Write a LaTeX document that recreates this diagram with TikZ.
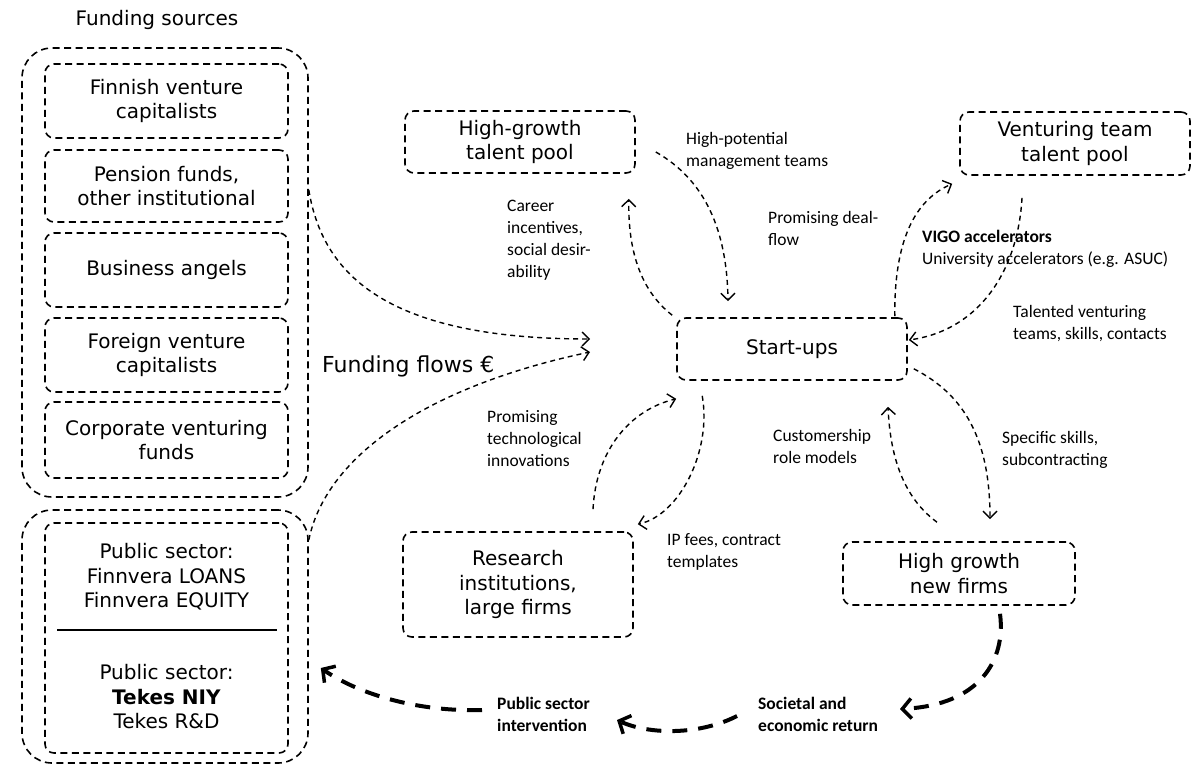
\documentclass[tikz,border=0pt]{standalone}
\usepackage{fontspec}
\setmainfont{DejaVu Sans}
\newfontfamily\lab{Carlito}
\usetikzlibrary{arrows.meta,calc}
\begin{document}
\begin{tikzpicture}[x=1pt,y=-1pt,
 boxd/.style={draw, dash pattern=on 7pt off 4.5pt, line width=1.6pt, rounded corners=9pt, align=center, font=\fontsize{20}{24.5}\selectfont, inner sep=0pt},
 grp/.style={draw, dash pattern=on 7pt off 4.5pt, line width=1.6pt, rounded corners=30pt, inner sep=0pt},
 plain/.style={align=center, inner sep=0pt, font=\fontsize{20}{24.5}\selectfont},
 flow/.style={dash pattern=on 5pt off 4pt, line width=1.4pt, -{Straight Barb[length=7pt,width=14pt,line width=1.4pt]}},
 big/.style={dash pattern=on 15pt off 11pt, line width=4pt, -{Straight Barb[length=9pt,width=20pt,line width=3.5pt]}},
 lbl/.style={align=left, anchor=west, inner sep=0pt, font=\lab\fontsize{17.5}{22}\selectfont},
 blbl/.style={align=left, anchor=west, inner sep=0pt, font=\lab\bfseries\fontsize{17.5}{22}\selectfont}]
\useasboundingbox (0,0) rectangle (1193,766);

% funding group
\node[plain] (fstitle) at (157,20) {Funding sources};
\node[grp, minimum width=286pt, minimum height=449pt] (fund) at (165,272.5) {};
\node[boxd, minimum width=243pt, minimum height=74pt] (fin) at (166.5,101) {Finnish venture\\capitalists};
\node[boxd, minimum width=243pt, minimum height=72pt] (pen) at (166.5,186) {Pension funds,\\other institutional};
\node[boxd, minimum width=243pt, minimum height=74pt] (ang) at (166.5,270) {Business angels};
\node[boxd, minimum width=243pt, minimum height=74pt] (for) at (166.5,355) {Foreign venture\\capitalists};
\node[boxd, minimum width=243pt, minimum height=76pt] (cor) at (166.5,440) {Corporate venturing\\funds};

% public group
\node[grp, minimum width=286pt, minimum height=253pt] (pubg) at (165,636.5) {};
\node[boxd, minimum width=243pt, minimum height=230pt] (pub) at (166.5,638) {};
\draw[line width=1.4pt] (57,630) -- (277,630);
\node[plain] (finn) at (166.5,577) {Public sector:\\Finnvera LOANS\\Finnvera EQUITY};
\node[plain] (tek) at (166.5,697) {Public sector:\\\textbf{Tekes NIY}\\Tekes R\&D};

% main boxes
\node[boxd, minimum width=230pt, minimum height=62pt] (tp) at (520,142) {High-growth\\talent pool};
\node[boxd, minimum width=230pt, minimum height=63pt] (vt) at (1075,143.5) {Venturing team\\talent pool};
\node[boxd, minimum width=230pt, minimum height=62pt] (su) at (792,349) {Start-ups};
\node[boxd, minimum width=230pt, minimum height=105pt] (rs) at (518,584.5) {Research\\institutions,\\large firms};
\node[boxd, minimum width=232pt, minimum height=63pt] (hg) at (959,573.5) {High growth\\new firms};

% labels
\node[anchor=west, inner sep=0pt, font=\fontsize{22}{26}\selectfont] (ffl) at (322,366) {Funding flows €};
\node[lbl] (l1) at (686,151) {High-potential\\management teams};
\node[lbl] (l2) at (507,240) {Career\\incentives,\\social desir-\\ability};
\node[lbl] (l3) at (768,228) {Promising deal-\\flow};
\node[lbl] (l4) at (922,249) {\textbf{VIGO accelerators}\\University accelerators (e.g. ASUC)};
\node[lbl] (l5) at (1013,324) {Talented venturing\\teams, skills, contacts};
\node[lbl] (l6) at (487,439) {Promising\\technological\\innovations};
\node[lbl] (l7) at (667,552) {IP fees, contract\\templates};
\node[lbl] (l8) at (773,446) {Customership\\role models};
\node[lbl] (l9) at (1002,450) {Specific skills,\\subcontracting};
\node[blbl] (l10) at (497,714) {Public sector\\intervention};
\node[blbl] (l11) at (758,714) {Societal and\\economic return};

% free ends
\coordinate (ff1) at (590,339);
\coordinate (ff2) at (590,352);
\coordinate (r1) at (900,709);
\coordinate (r2s) at (737,716);
\coordinate (r2e) at (617,720);
\coordinate (r3s) at (482,710);

% connectors
\draw[flow] (fund.east |- 0,190) .. controls (322,270) and (380,339) .. (ff1);
\draw[flow] (pubg.east |- 0,540) .. controls (325,460) and (420,388) .. (ff2);
\draw[flow] ($(su.north west)+(-4,-2)$) .. controls (640,290) and (628,250) .. ($(tp.south east)+(-7,25)$);
\draw[flow] ($(tp.east)+(20,10)$) .. controls (705,180) and (727,230) .. ($(su.north)+(-64,-16)$);
\draw[flow] ($(su.north east)+(-13,-1)$) .. controls (894,240) and (915,200) .. ($(vt.south west)+(-7,8)$);
\draw[flow] ($(vt.south)+(-53,22)$) .. controls (1018,270) and (980,330) .. ($(su.east)+(1,-9)$);
\draw[flow] ($(su.south east)+(6,-12)$) .. controls (965,395) and (990,440) .. ($(hg.north)+(31,-22)$);
\draw[flow] ($(hg.north)+(-22,-19)$) .. controls (900,495) and (890,450) .. ($(su.south)+(96,26)$);
\draw[flow] ($(rs.north)+(75,-22)$) .. controls (596,450) and (630,410) .. ($(su.south west)+(0,18)$);
\draw[flow] ($(su.south west)+(26,15)$) .. controls (712,450) and (680,515) .. ($(rs.north east)+(4,-7)$);
\draw[big] ($(hg.south)+(41,8)$) .. controls (1006,660) and (980,705) .. (r1);
\draw[big] (r2s) .. controls (700,735) and (650,735) .. (r2e);
\draw[big] (r3s) .. controls (420,712) and (360,695) .. ($(pubg.east)+(12,31.5)$);
\end{tikzpicture}
\end{document}
